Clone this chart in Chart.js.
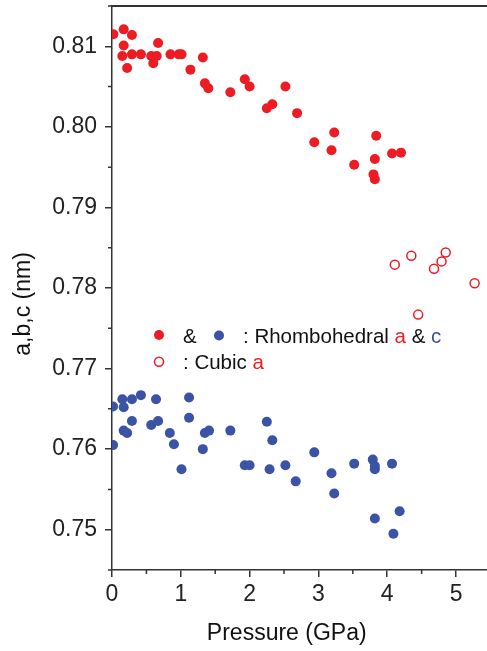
<!DOCTYPE html>
<html>
<head>
<meta charset="utf-8">
<script src="https://cdn.jsdelivr.net/npm/chart.js@4/dist/chart.umd.min.js"></script>
<style>
  html, body { margin: 0; padding: 0; background: #fff; }
  #wrap { width: 487px; height: 651px; }
</style>
</head>
<body>
<div id="wrap"><canvas id="latticeChart" width="487" height="651"></canvas></div>
<script>
// Rhombohedral a (filled red)
var pressureA = [0.02, 0.17, 0.29, 0.17, 0.15, 0.29, 0.42, 0.22, 0.67, 0.57, 0.65, 0.60, 0.85, 0.97, 1.01, 1.32, 1.14, 1.35, 1.40, 1.72, 1.93, 2.00, 2.52, 2.25, 2.33, 2.69, 2.94, 3.23, 3.19, 3.52, 3.84, 3.82, 4.07, 4.20, 3.80, 3.82];
var latticeA = [0.8115, 0.8121, 0.8114, 0.8101, 0.8088, 0.8090, 0.8090, 0.8073, 0.8104, 0.8088, 0.8088, 0.8079, 0.8090, 0.8090, 0.8090, 0.8086, 0.8071, 0.8054, 0.8048, 0.8043, 0.8059, 0.8050, 0.8050, 0.8023, 0.8028, 0.8017, 0.7981, 0.7993, 0.7971, 0.7953, 0.7989, 0.7960, 0.7967, 0.7968, 0.7941, 0.7935];

// Rhombohedral c (filled blue)
var pressureC = [0.015, 0.15, 0.29, 0.42, 0.17, 0.64, 1.12, 0.015, 0.17, 0.22, 0.29, 0.57, 0.67, 0.84, 0.90, 1.12, 1.01, 1.35, 1.41, 1.32, 1.72, 2.25, 2.33, 1.93, 2.00, 2.29, 2.52, 2.67, 2.94, 3.19, 3.23, 3.52, 3.79, 3.82, 3.82, 4.07, 3.82, 4.18, 4.09];
var latticeC = [0.7653, 0.7662, 0.7662, 0.7667, 0.7652, 0.7662, 0.7664, 0.7605, 0.7623, 0.7620, 0.7635, 0.7630, 0.7635, 0.7620, 0.7606, 0.7639, 0.7575, 0.7620, 0.7623, 0.7600, 0.7623, 0.7634, 0.7611, 0.7580, 0.7580, 0.7575, 0.7580, 0.7560, 0.7596, 0.7570, 0.7545, 0.7582, 0.7587, 0.7579, 0.7575, 0.7582, 0.7514, 0.7523, 0.7495];

// Cubic a (open red)
var pressureCubic = [4.11, 4.35, 4.68, 4.79, 4.85, 5.27, 4.45];
var latticeCubic = [0.7829, 0.7840, 0.7824, 0.7833, 0.7844, 0.7806, 0.7767];

// Axis ticks
var xTicks = [0, 1, 2, 3, 4, 5];
var xMinorTicks = [0.5, 1.5, 2.5, 3.5, 4.5];
var yTicks = [0.75, 0.76, 0.77, 0.78, 0.79, 0.80, 0.81];
var yMinorTicks = [0.745, 0.755, 0.765, 0.775, 0.785, 0.795, 0.805, 0.815];

var RED = '#ED1C24';
var BLUE = '#3A53A4';
var AXIS = '#333333';
var FONT = "'Liberation Sans', Arial, sans-serif";

function toPoints(xs, ys) {
    return xs.map(function (x, i) { return { x: x, y: ys[i] }; });
}

// keep the plot box fixed: no extra room for edge labels
function noEdgePadding(scale) {
    scale.paddingLeft = 0;
    scale.paddingRight = 0;
    scale.paddingTop = 0;
    scale.paddingBottom = 0;
}

// Short minor ticks, top frame line and the mixed-colour key
var framePlugin = {
    id: 'frame',
    afterDraw: function (chart) {
        var ctx = chart.ctx;
        var area = chart.chartArea;
        var xs = chart.scales.x;
        var ys = chart.scales.y;
        ctx.save();
        ctx.strokeStyle = AXIS;
        ctx.lineWidth = 1.5;
        ctx.beginPath();
        xMinorTicks.forEach(function (v) {
            var px = xs.getPixelForValue(v);
            ctx.moveTo(px, area.bottom);
            ctx.lineTo(px, area.bottom + 4);
        });
        yMinorTicks.forEach(function (v) {
            var py = ys.getPixelForValue(v);
            ctx.moveTo(area.left, py);
            ctx.lineTo(area.left - 4, py);
        });
        ctx.stroke();

        ctx.lineWidth = 2;
        ctx.beginPath();
        ctx.moveTo(area.left, area.top);
        ctx.lineTo(area.right, area.top);
        ctx.stroke();

        // key
        var kx = area.left + 47;
        var row1 = 343, row2 = 368.5;
        ctx.fillStyle = RED;
        ctx.beginPath();
        ctx.arc(kx, 335, 5, 0, Math.PI * 2);
        ctx.fill();
        ctx.fillStyle = BLUE;
        ctx.beginPath();
        ctx.arc(kx + 60, 335.5, 5, 0, Math.PI * 2);
        ctx.fill();
        ctx.strokeStyle = RED;
        ctx.lineWidth = 1.5;
        ctx.beginPath();
        ctx.arc(kx, 361.7, 4.5, 0, Math.PI * 2);
        ctx.stroke();

        ctx.font = '20.5px ' + FONT;
        ctx.textBaseline = 'alphabetic';
        ctx.textAlign = 'left';
        function run(parts, x, y) {
            parts.forEach(function (p) {
                ctx.fillStyle = p[1];
                ctx.fillText(p[0], x, y);
                x += ctx.measureText(p[0]).width;
            });
        }
        run([['&', '#111']], kx + 24, row1);
        run([[': Rhombohedral ', '#111'], ['a', RED], [' & ', '#111'], ['c', BLUE]], kx + 84, row1);
        run([[': Cubic ', '#111'], ['a', RED]], kx + 24, row2);
        ctx.restore();
    }
};

document.addEventListener('DOMContentLoaded', function () {
    var ctx = document.getElementById('latticeChart').getContext('2d');
    new Chart(ctx, {
        type: 'scatter',
        data: {
            datasets: [{
                label: 'Rhombohedral a',
                data: toPoints(pressureA, latticeA),
                backgroundColor: RED,
                borderWidth: 0,
                pointRadius: 5
            }, {
                label: 'Rhombohedral c',
                data: toPoints(pressureC, latticeC),
                backgroundColor: BLUE,
                borderWidth: 0,
                pointRadius: 5
            }, {
                label: 'Cubic a',
                data: toPoints(pressureCubic, latticeCubic),
                backgroundColor: '#fff',
                borderColor: RED,
                borderWidth: 1.5,
                pointRadius: 4.5
            }]
        },
        options: {
            responsive: false,
            animation: false,
            events: [],
            layout: {
                autoPadding: false,
                padding: { top: 6, right: 0, left: 0, bottom: 0 }
            },
            plugins: {
                legend: { display: false },
                tooltip: { enabled: false }
            },
            scales: {
                x: {
                    type: 'linear',
                    min: 0,
                    max: 5.45,
                    afterBuildTicks: function (scale) {
                        scale.ticks = xTicks.map(function (v) { return { value: v }; });
                    },
                    afterFit: function (scale) {
                        scale.height = 81;
                        noEdgePadding(scale);
                    },
                    grid: { drawOnChartArea: false, drawTicks: true, tickLength: 7, color: AXIS, lineWidth: 1.5 },
                    border: { display: true, color: AXIS, width: 1.5 },
                    ticks: {
                        padding: 4,
                        color: '#222',
                        font: { family: FONT, size: 23 },
                        maxRotation: 0,
                        callback: function (v) { return String(v); }
                    },
                    title: {
                        display: true,
                        // trailing spaces nudge the centred title left
                        text: 'Pressure (GPa)    ',
                        color: '#111',
                        font: { family: FONT, size: 23 },
                        padding: { top: 0, bottom: 4 }
                    }
                },
                y: {
                    type: 'linear',
                    min: 0.745,
                    max: 0.815,
                    afterBuildTicks: function (scale) {
                        scale.ticks = yTicks.map(function (v) { return { value: v }; });
                    },
                    afterFit: function (scale) {
                        scale.width = 112;
                        noEdgePadding(scale);
                    },
                    grid: { drawOnChartArea: false, drawTicks: true, tickLength: 7, color: AXIS, lineWidth: 1.5 },
                    border: { display: true, color: AXIS, width: 1.5 },
                    ticks: {
                        padding: 8,
                        color: '#222',
                        font: { family: FONT, size: 23 },
                        callback: function (v) { return v.toFixed(2); }
                    },
                    title: {
                        display: true,
                        text: 'a,b,c (nm)     ',
                        color: '#111',
                        font: { family: FONT, size: 23 },
                        padding: { top: 10, bottom: 0 }
                    }
                }
            }
        },
        plugins: [framePlugin]
    });
});
</script>
</body>
</html>
